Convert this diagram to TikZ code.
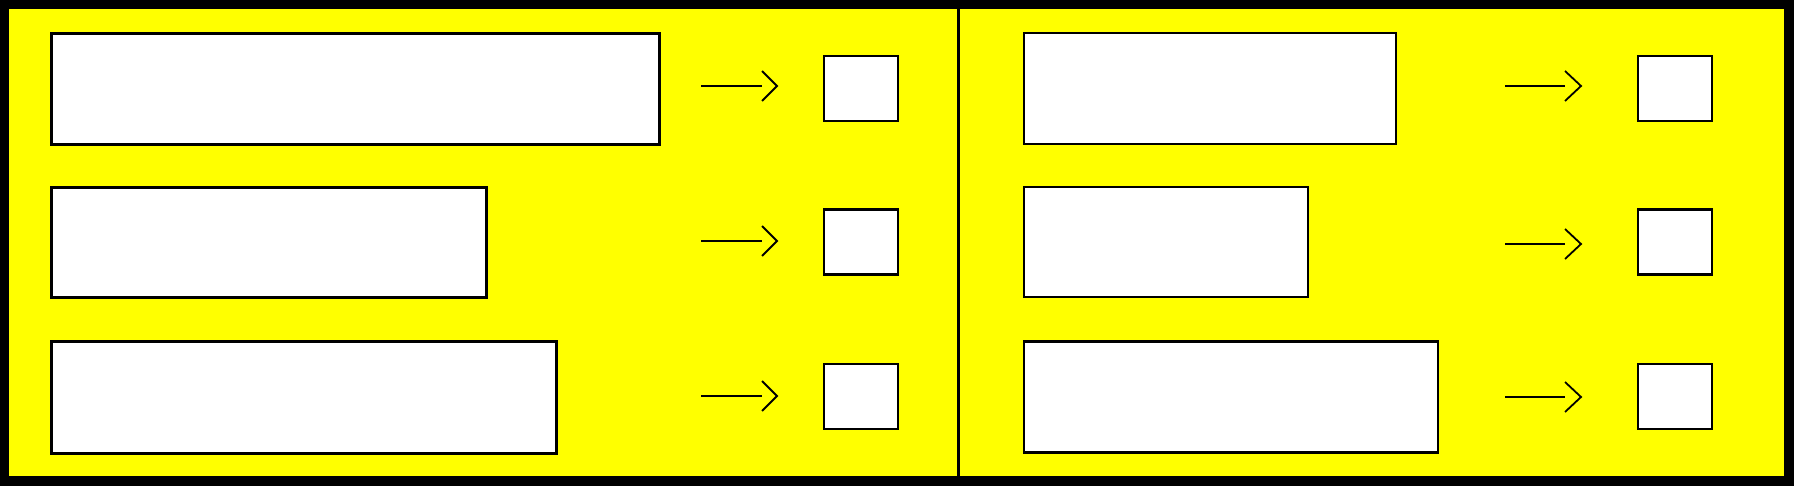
\documentclass[tikz,border=0pt]{standalone}
\definecolor{bgyellow}{RGB}{255,255,0}
\begin{document}
\begin{tikzpicture}[x=1pt,y=-1pt,
  bigboxL/.style={draw=black, fill=white, line width=3pt, anchor=north west, inner sep=0pt, outer sep=0pt},
  bigboxR/.style={draw=black, fill=white, line width=2.6pt, anchor=north west, inner sep=0pt, outer sep=0pt},
  smallbox/.style={draw=black, fill=white, line width=2.6pt, anchor=north west, inner sep=0pt, outer sep=0pt, minimum width=74pt, minimum height=65pt},
  arrline/.style={draw=black, line width=1.8pt},
  divider/.style={draw=black, line width=3pt}]
\useasboundingbox (0,0) rectangle (1794,486);
\fill[black] (0,0) rectangle (1794,486);
\fill[bgyellow] (9,9) rectangle (1784,476);
% divider
\coordinate (dtop) at (958,9);
\coordinate (dbot) at (958,476);
\draw[divider] (dtop) -- (dbot);
% left big boxes
\node[bigboxL, minimum width=608pt, minimum height=111pt] (L1) at (51.5,33.5) {};
\node[bigboxL, minimum width=434.5pt, minimum height=110pt] (L2) at (51.5,187.5) {};
\node[bigboxL, minimum width=504.5pt, minimum height=111.5pt] (L3) at (51.5,341.5) {};
% left small boxes
\node[smallbox] (SL1) at (824,56) {};
\node[smallbox] (SL2) at (824,209.5) {};
\node[smallbox] (SL3) at (824,364) {};
% right big boxes
\node[bigboxR, minimum width=372pt, minimum height=111pt] (R1) at (1024,33) {};
\node[bigboxR, minimum width=284pt, minimum height=110pt] (R2) at (1024,187) {};
\node[bigboxR, minimum width=414pt, minimum height=111pt] (R3) at (1024,341.5) {};
% right small boxes
\node[smallbox] (SR1) at (1638,56) {};
\node[smallbox] (SR2) at (1638,209.5) {};
\node[smallbox] (SR3) at (1638,364) {};
% arrows left
\coordinate (pl1) at (701,86);  \coordinate (ql1) at (777,86);
\coordinate (pl2) at (701,241); \coordinate (ql2) at (777,241);
\coordinate (pl3) at (701,396); \coordinate (ql3) at (777,396);
\foreach \i in {1,2,3}{
  \draw[arrline] (pl\i) -- ++(61,0);
  \draw[arrline] (ql\i) ++(-15,-15) -- (ql\i) -- ++(-15,15);
}
% arrows right
\coordinate (pr1) at (1505,86);  \coordinate (qr1) at (1581,86);
\coordinate (pr2) at (1505,244); \coordinate (qr2) at (1581,244);
\coordinate (pr3) at (1505,397); \coordinate (qr3) at (1581,397);
\foreach \i in {1,2,3}{
  \draw[arrline] (pr\i) -- ++(60,0);
  \draw[arrline] (qr\i) ++(-16,-15) -- (qr\i) -- ++(-16,15);
}
\end{tikzpicture}
\end{document}
